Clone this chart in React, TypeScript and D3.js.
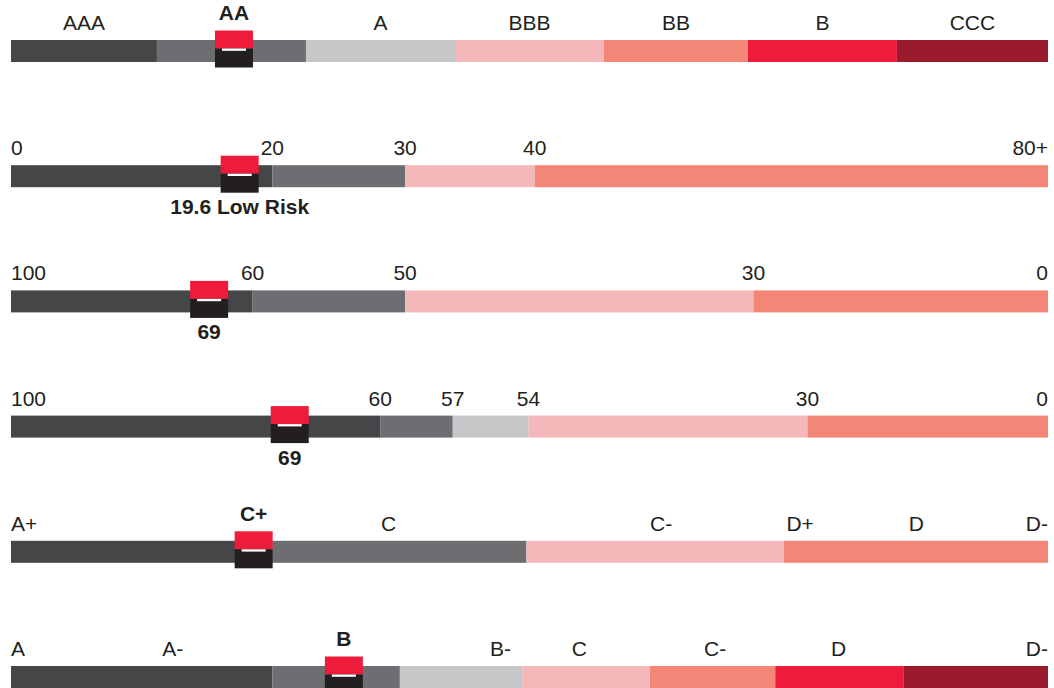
import * as d3 from 'd3';

const DARK = '#454648';
const MID = '#6d6e71';
const LIGHT = '#c5c6c8';
const PINK = '#f4b8ba';
const SALMON = '#f38676';
const RED = '#ee1b3b';
const MAROON = '#9b1b2e';
const INK = '#231f20';

// row 1 - credit rating, equal-ish bands, label centred in its band
const ratingLabels = ['AAA', 'AA', 'A', 'BBB', 'BB', 'B', 'CCC'];
const ratingShares = [14.1, 14.4, 14.4, 14.4, 13.9, 14.4, 14.6];
const ratingColors = [DARK, MID, LIGHT, PINK, SALMON, RED, MAROON];
const ratingSelected = 'AA';
const ratingMarkerAt = 21.5; // % along the bar

// row 2 - risk score 0..80+
const riskBreaks = [0, 20, 30, 40, 80];
const riskTicks = ['0', '20', '30', '40', '80+'];
const riskBreakAt = [0, 25.2, 38.0, 50.5, 100];
const riskColors = [DARK, MID, PINK, SALMON];
const riskValue = 17.5;
const riskCaption = '19.6 Low Risk';

// row 3 - score 100..0
const scoreBreaks = [100, 60, 50, 30, 0];
const scoreTicks = ['100', '60', '50', '30', '0'];
const scoreBreakAt = [0, 23.3, 38.0, 71.6, 100];
const scoreColors = [DARK, MID, PINK, SALMON];
const scoreValue = 67.2;
const scoreCaption = '69';

// row 4 - score 100..0, finer bands
const score2Breaks = [100, 60, 57, 54, 30, 0];
const score2Ticks = ['100', '60', '57', '54', '30', '0'];
const score2BreakAt = [0, 35.6, 42.6, 49.9, 76.8, 100];
const score2Colors = [DARK, MID, LIGHT, PINK, SALMON];
const score2Value = 69.8;
const score2Caption = '69';

// row 5 - letter grades
const gradeLabels = ['A+', 'C+', 'C', 'C-', 'D+', 'D', 'D-'];
const gradeAt = [0, 23.7, 36.4, 62.7, 76.1, 87.3, 100];
const gradeShares = [25.2, 24.5, 24.8, 25.5];
const gradeColors = [DARK, MID, PINK, SALMON];
const gradeSelected = 'C+';
const gradeMarkerAt = 23.4;

// row 6 - letter grades, seven bands
const grade2Labels = ['A', 'A-', 'B', 'B-', 'C', 'C-', 'D', 'D-'];
const grade2At = [0, 15.6, 32.1, 47.2, 54.8, 67.9, 79.8, 100];
const grade2Shares = [25.2, 12.3, 11.8, 12.3, 12.1, 12.4, 13.9];
const grade2Colors = [DARK, MID, LIGHT, PINK, SALMON, RED, MAROON];
const grade2Selected = 'B';
const grade2MarkerAt = 32.1;

const W = 1054;
const H = 688;
const barH = 22;
const FONT = '"Liberation Sans", Arial, Helvetica, sans-serif';

type Seg = { from: number; to: number; color: string };
type Label = { text: string; at: number; anchor: string; bold?: boolean; place: 'top' | 'above' | 'below' };
type Row = { segs: Seg[]; labels: Label[]; markerAt: number };

const anchorFor = (i: number, n: number) => (i === 0 ? 'start' : i === n - 1 ? 'end' : 'middle');

function fromShares(shares: number[], colors: string[]): Seg[] {
  const cum = [0, ...d3.cumsum(shares)];
  const total = cum[cum.length - 1];
  return shares.map((_, i) => ({ from: (cum[i] / total) * 100, to: (cum[i + 1] / total) * 100, color: colors[i] }));
}

function fromBreaks(at: number[], colors: string[]): Seg[] {
  return colors.map((c, i) => ({ from: at[i], to: at[i + 1], color: c }));
}

function valueRow(breaks: number[], ticks: string[], at: number[], colors: string[], value: number, caption: string): Row {
  const pct = d3.scaleLinear().domain(breaks).range(at);
  const markerAt = pct(value);
  const labels: Label[] = ticks.map((t, i) => ({ text: t, at: pct(breaks[i]), anchor: anchorFor(i, ticks.length), place: 'top' }));
  labels.push({ text: caption, at: markerAt, anchor: 'middle', bold: true, place: 'below' });
  return { segs: fromBreaks(at, colors), labels, markerAt };
}

function gradeRow(names: string[], at: number[], shares: number[], colors: string[], selected: string, markerAt: number): Row {
  const labels: Label[] = names.map((t, i) =>
    t === selected
      ? { text: t, at: markerAt, anchor: 'middle', bold: true, place: 'above' }
      : { text: t, at: at[i], anchor: anchorFor(i, names.length), place: 'top' },
  );
  return { segs: fromShares(shares, colors), labels, markerAt };
}

const ratingSegs = fromShares(ratingShares, ratingColors);
const rows: Row[] = [
  {
    segs: ratingSegs,
    labels: ratingLabels.map((t, i) =>
      t === ratingSelected
        ? { text: t, at: ratingMarkerAt, anchor: 'middle', bold: true, place: 'above' as const }
        : { text: t, at: (ratingSegs[i].from + ratingSegs[i].to) / 2, anchor: 'middle', place: 'top' as const },
    ),
    markerAt: ratingMarkerAt,
  },
  valueRow(riskBreaks, riskTicks, riskBreakAt, riskColors, riskValue, riskCaption),
  valueRow(scoreBreaks, scoreTicks, scoreBreakAt, scoreColors, scoreValue, scoreCaption),
  valueRow(score2Breaks, score2Ticks, score2BreakAt, score2Colors, score2Value, score2Caption),
  gradeRow(gradeLabels, gradeAt, gradeShares, gradeColors, gradeSelected, gradeMarkerAt),
  gradeRow(grade2Labels, grade2At, grade2Shares, grade2Colors, grade2Selected, grade2MarkerAt),
];

const x = d3.scaleLinear().domain([0, 100]).range([11, 1048]);
const y = d3.scaleLinear().domain([0, rows.length - 1]).range([40, 666]);

function Marker({ cx, top }: { cx: number; top: number }) {
  const w = 38;
  return (
    <g transform={`translate(${cx - w / 2},${top - 9.5})`}>
      <rect width={w} height={18} fill={RED} />
      <rect y={18} width={w} height={19} fill={INK} />
      <rect x={7} y={18} width={w - 14} height={2.3} fill="#fff" />
    </g>
  );
}

export default function App() {
  return (
    <svg
      width={W}
      height={H}
      viewBox={`0 0 ${W} ${H}`}
      style={{ position: 'absolute', left: 0, top: 0, background: '#fff' }}
      fontFamily={FONT}
    >
      {rows.map((row, r) => {
        const top = y(r);
        return (
          <g key={r}>
            {row.segs.map((s, i) => (
              <rect key={i} x={x(s.from)} y={top} width={x(s.to) - x(s.from)} height={barH} fill={s.color} />
            ))}
            <Marker cx={x(row.markerAt)} top={top} />
            {row.labels.map((l, i) => (
              <text
                key={i}
                x={x(l.at)}
                y={l.place === 'top' ? top - 10 : l.place === 'above' ? top - 20 : top + barH + 27}
                textAnchor={l.anchor}
                fontSize={21}
                fontWeight={l.bold ? 'bold' : 'normal'}
                fill={INK}
              >
                {l.text}
              </text>
            ))}
          </g>
        );
      })}
    </svg>
  );
}
